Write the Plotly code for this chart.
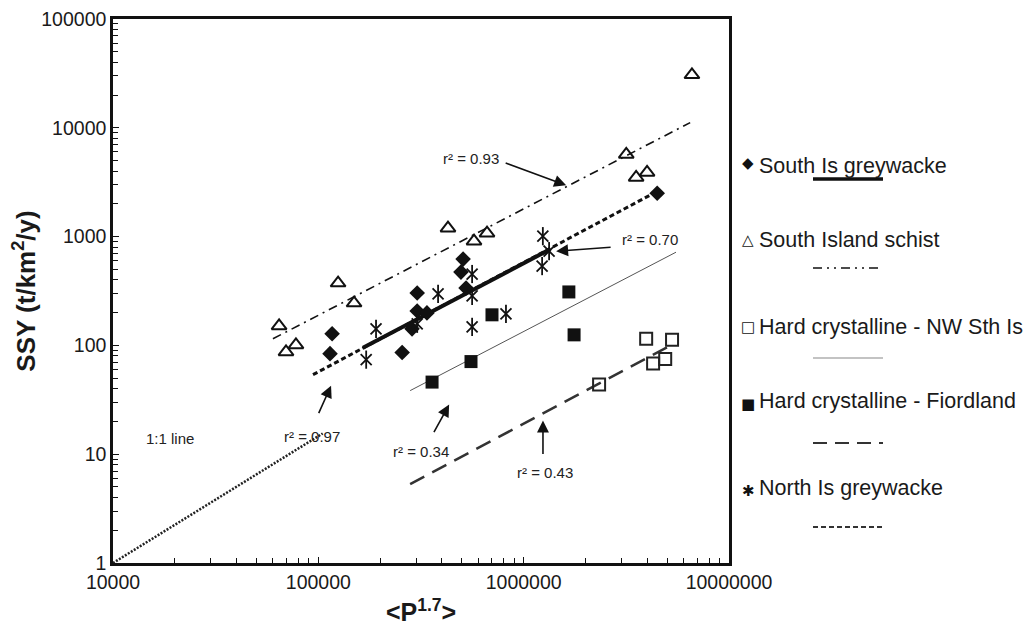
import plotly.graph_objects as go

# ---------------- data ----------------
sig_x = [114000, 116700, 256000, 286000, 303000, 303000, 338000, 495000, 507000, 524000, 4470000]
sig_y = [84, 128, 86, 142, 303, 207, 199, 472, 621, 337, 2500]

sis_x = [64400, 69600, 77800, 124800, 149300, 428000, 573000, 663000, 3160000, 3530000, 3990000, 6600000]
sis_y = [151, 87, 101, 374, 245, 1194, 908, 1075, 5690, 3500, 3890, 30700]

nw_x = [2330000, 3950000, 4270000, 4890000, 5280000]
nw_y = [43.6, 115, 68, 75, 113]

fl_x = [358000, 554000, 701000, 1660000, 1760000]
fl_y = [46, 71, 191, 310, 125]

nig_x = [171000, 191000, 303000, 383000, 561000, 561000, 561000, 820000, 1230000, 1240000, 1330000]
nig_y = [74, 142, 158, 297, 453, 285, 148, 195, 536, 1009, 735]

# fitted trend lines (end points)
fit_sig_x, fit_sig_y = [165000, 1350000], [95, 767]
fit_sis_x, fit_sis_y = [60100, 6470000], [115, 11160]
fit_thin_x, fit_thin_y = [280000, 5520000], [38.4, 719]
fit_long_x, fit_long_y = [280000, 5350000], [5.3, 103]
fit_nig_x, fit_nig_y = [94200, 4470000], [53.8, 2605]
one_x, one_y = [10000, 105000], [1, 15.5]

x_ticks = [1e4, 1e5, 1e6, 1e7]
x_ticktext = ["10000", "100000", "1000000", "10000000"]
y_ticks = [1, 10, 100, 1000, 10000, 100000]
y_ticktext = ["1", "10", "100", "1000", "10000", "100000"]

r2_labels = ["r² = 0.93", "r² = 0.70", "r² = 0.97", "r² = 0.34", "r² = 0.43"]

legend_names = ["South Is greywacke", "South Island schist", "Hard crystalline - NW Sth Is",
                "Hard crystalline - Fiordland", "North Is greywacke"]
legend_glyphs = ["◆", "△", "□", "■", "✱"]

FONT = "Liberation Sans, Arial, sans-serif"
BLACK = "#111111"
TXT = "#1a1a1a"

fig = go.Figure()

# lines
fig.add_trace(go.Scatter(x=one_x, y=one_y, mode="lines",
                         line=dict(color="#222222", width=2.5, dash="2px,1.5px")))
fig.add_trace(go.Scatter(x=fit_sis_x, y=fit_sis_y, mode="lines",
                         line=dict(color=BLACK, width=1.6, dash="9px,5px,2px,5px")))
fig.add_trace(go.Scatter(x=fit_thin_x, y=fit_thin_y, mode="lines",
                         line=dict(color="#555555", width=1)))
fig.add_trace(go.Scatter(x=fit_long_x, y=fit_long_y, mode="lines",
                         line=dict(color="#333333", width=2.5, dash="16px,9px")))
fig.add_trace(go.Scatter(x=fit_nig_x, y=fit_nig_y, mode="lines",
                         line=dict(color=BLACK, width=3, dash="5px,3px")))
fig.add_trace(go.Scatter(x=fit_sig_x, y=fit_sig_y, mode="lines",
                         line=dict(color=BLACK, width=4)))

# points
fig.add_trace(go.Scatter(x=sig_x, y=sig_y, mode="markers",
                         marker=dict(symbol="diamond", size=12, color=BLACK)))
fig.add_trace(go.Scatter(x=sis_x, y=sis_y, mode="markers",
                         marker=dict(symbol="triangle-up-open", size=13, color=BLACK,
                                     line=dict(width=2, color=BLACK))))
fig.add_trace(go.Scatter(x=nw_x, y=nw_y, mode="markers",
                         marker=dict(symbol="square-open", size=12, color="#222222",
                                     line=dict(width=2, color="#222222"))))
fig.add_trace(go.Scatter(x=fl_x, y=fl_y, mode="markers",
                         marker=dict(symbol="square", size=13, color=BLACK)))
fig.add_trace(go.Scatter(x=nig_x, y=nig_y, mode="markers",
                         marker=dict(symbol="x-thin-open", size=11, color=BLACK,
                                     line=dict(width=1.8, color=BLACK))))
fig.add_trace(go.Scatter(x=nig_x, y=nig_y, mode="markers",
                         marker=dict(symbol="line-ns-open", size=13, color=BLACK,
                                     line=dict(width=1.8, color=BLACK))))

# figure size accounts for the 8px page margin around the plot div
PAGE_OFF = 8
W, H = 1020, 622
L, R, T, B = 113 - PAGE_OFF, 729 - PAGE_OFF, 19 - PAGE_OFF, 563 - PAGE_OFF

def px(xp):
    return (xp - PAGE_OFF - L) / (R - L)

def py(yp):
    return (B - (yp - PAGE_OFF)) / (B - T)

annotations = []
# r² labels with arrows (head in data log coordinates, tail offsets in px)
arrow_specs = [
    (6.207, 3.471, -62, -23),
    (6.158, 2.866, 56, -4),
    (5.062, 1.630, -13, 29),
    (5.637, 1.456, -16, 29),
    (6.094, 1.310, 0, 35),
]
text_pos = [(5.744, 3.718), (6.616, 2.976), (4.969, 1.163), (5.500, 1.026), (6.104, 0.833)]
for (hx, hy, ax, ay) in arrow_specs:
    annotations.append(dict(x=hx, y=hy, xref="x", yref="y", ax=ax, ay=ay, text="",
                            showarrow=True, arrowhead=2, arrowsize=1.5, arrowwidth=1.6,
                            arrowcolor=BLACK))
for lab, (tx, ty) in zip(r2_labels, text_pos):
    annotations.append(dict(x=tx, y=ty, xref="x", yref="y", text=lab, showarrow=False,
                            font=dict(family=FONT, size=15, color="#222222")))
annotations.append(dict(x=4.278, y=1.145, xref="x", yref="y", text="1:1 line", showarrow=False,
                        font=dict(family=FONT, size=15, color="#222222")))

# custom legend (page pixel positions)
leg_text_y = [152, 240, 327, 415, 502]
leg_line_y = [179, 268, 358, 443, 527]
leg_dash = ["solid", "9px,5px,2px,5px,2px,5px", "solid", "14px,8px", "5px,3px"]
leg_width = [3.5, 1.6, 1.2, 2.2, 1.8]
leg_color = [BLACK, BLACK, "#888888", "#333333", "#333333"]
shapes = []
for i, name in enumerate(legend_names):
    annotations.append(dict(x=px(748), y=py(leg_text_y[i]), xref="paper", yref="paper",
                            text=legend_glyphs[i], showarrow=False, xanchor="center",
                            font=dict(family="DejaVu Sans", size=15, color=BLACK)))
    annotations.append(dict(x=px(757), y=py(leg_text_y[i]), xref="paper", yref="paper",
                            text=name, showarrow=False, xanchor="left",
                            font=dict(family=FONT, size=21.5, color=TXT)))
    shapes.append(dict(type="line", xref="paper", yref="paper",
                       x0=px(813), x1=px(883), y0=py(leg_line_y[i]), y1=py(leg_line_y[i]),
                       line=dict(color=leg_color[i], width=leg_width[i], dash=leg_dash[i])))

x_minor = [m * 10 ** d for d in range(4, 7) for m in range(2, 10)]
y_minor = [m * 10 ** d for d in range(0, 5) for m in range(2, 10)]

fig.update_layout(
    width=W, height=H,
    margin=dict(l=L, r=W - R, t=T, b=H - B, autoexpand=False),
    paper_bgcolor="white", plot_bgcolor="white",
    showlegend=False,
    font=dict(family=FONT, color=TXT),
    annotations=annotations,
    shapes=shapes,
    xaxis=dict(type="log", range=[4, 7], tickmode="array", tickvals=x_ticks, ticktext=x_ticktext,
               ticks="inside", ticklen=6, tickwidth=1, tickcolor=BLACK, automargin=False,
               ticklabeloverflow="allow",
               showline=True, linewidth=2.5, linecolor=BLACK, mirror=True,
               showgrid=False, zeroline=False,
               minor=dict(tickmode="array", tickvals=x_minor, ticks="inside", ticklen=5,
                          tickwidth=1, tickcolor=BLACK, showgrid=False),
               tickfont=dict(family=FONT, size=19.5, color=TXT),
               title=dict(text="<b>&lt;P<sup>1.7</sup>&gt;</b>", standoff=12,
                          font=dict(family=FONT, size=25, color=TXT))),
    yaxis=dict(type="log", range=[0, 5], tickmode="array", tickvals=y_ticks, ticktext=y_ticktext,
               ticks="inside", ticklen=6, tickwidth=1, tickcolor=BLACK, automargin=False,
               ticklabeloverflow="allow",
               showline=True, linewidth=2.5, linecolor=BLACK, mirror=True,
               showgrid=False, zeroline=False,
               minor=dict(tickmode="array", tickvals=y_minor, ticks="inside", ticklen=5,
                          tickwidth=1, tickcolor=BLACK, showgrid=False),
               tickfont=dict(family=FONT, size=19.5, color=TXT),
               title=dict(text="<b>SSY (t/km<sup>2</sup>/y)</b>", standoff=2,
                          font=dict(family=FONT, size=26, color=TXT))),
)

fig.write_html("out.html")
